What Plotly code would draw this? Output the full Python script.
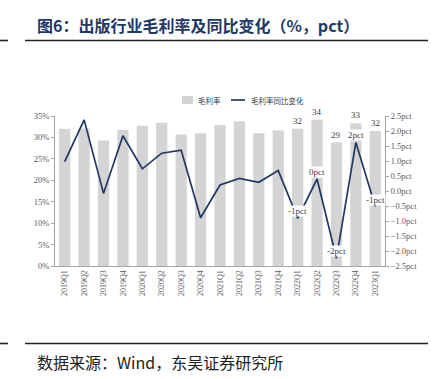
import plotly.graph_objects as go

quarters = ["2019Q1", "2019Q2", "2019Q3", "2019Q4", "2020Q1", "2020Q2", "2020Q3", "2020Q4",
            "2021Q1", "2021Q2", "2021Q3", "2021Q4", "2022Q1", "2022Q2", "2022Q3", "2022Q4", "2023Q1"]
gross_margin = [32.0, 32.1, 29.3, 31.8, 32.7, 33.4, 30.7, 31.0,
                32.9, 33.8, 31.0, 31.6, 32.0, 34.1, 28.8, 33.3, 31.5]
yoy_change = [0.98, 2.37, -0.08, 1.84, 0.74, 1.26, 1.36, -0.89,
              0.20, 0.42, 0.29, 0.68, -0.91, 0.40, -2.24, 1.62, -0.52]
labeled_from = 12  # labels shown from 2022Q1 onwards
series_names = ["毛利率", "毛利率同比变化"]

title_text = "图6：出版行业毛利率及同比变化（%，pct）"
source_text = "数据来源：Wind，东吴证券研究所"

SERIF = "Liberation Serif, Noto Sans CJK SC"
CJK = "Noto Sans CJK SC, Liberation Serif"
NAVY = "#1F3864"
BAR = "#D4D4D4"
TICK = "#595959"

W, H = 434, 379
ml, mr, mt, mb = 55, 49, 116, 113
pw, ph = W - ml - mr, H - mt - mb


def px_x(x):
    return (x - ml) / pw


def px_y(y):
    return (H - mb - y) / ph


fig = go.Figure()
fig.add_trace(go.Bar(x=quarters, y=gross_margin, name=series_names[0], marker_color=BAR,
                     marker_line_width=0, yaxis="y", showlegend=False))
fig.add_trace(go.Scatter(x=quarters, y=yoy_change, name=series_names[1], mode="lines",
                         line=dict(color=NAVY, width=1.7), yaxis="y2", showlegend=False))

annotations = []
for q, v in zip(quarters[labeled_from:], gross_margin[labeled_from:]):
    annotations.append(dict(x=q, y=v, xref="x", yref="y", text=str(round(v)),
                            showarrow=False, yanchor="bottom", yshift=1,
                            font=dict(family=SERIF, size=9, color="#404040")))
for q, v in zip(quarters[labeled_from:], yoy_change[labeled_from:]):
    annotations.append(dict(x=q, y=v, xref="x", yref="y2", text=f"{round(v)}pct",
                            showarrow=False, yanchor="middle", yshift=7,
                            bgcolor="white", borderpad=0,
                            font=dict(family=SERIF, size=9, color="#404040")))

annotations.append(dict(x=px_x(35), y=px_y(25), xref="paper", yref="paper",
                        text="<b>" + title_text + "</b>",
                        showarrow=False, xanchor="left", yanchor="middle",
                        font=dict(family=CJK, size=16, color=NAVY)))
annotations.append(dict(x=px_x(35), y=px_y(362), xref="paper", yref="paper", text=source_text,
                        showarrow=False, xanchor="left", yanchor="middle",
                        font=dict(family=CJK, size=16, color="#222222")))

# custom legend
annotations.append(dict(x=px_x(196), y=px_y(100), xref="paper", yref="paper", text=series_names[0],
                        showarrow=False, xanchor="left", yanchor="middle",
                        font=dict(family=CJK, size=7.5, color="#404040")))
annotations.append(dict(x=px_x(249), y=px_y(100), xref="paper", yref="paper", text=series_names[1],
                        showarrow=False, xanchor="left", yanchor="middle",
                        font=dict(family=CJK, size=7.5, color="#404040")))

shapes = []
for y in (40.5, 343.5):
    shapes.append(dict(type="line", xref="paper", yref="paper", x0=px_x(25), x1=px_x(428),
                       y0=px_y(y), y1=px_y(y), line=dict(color="#222222", width=1.6)))
    shapes.append(dict(type="line", xref="paper", yref="paper", x0=px_x(0), x1=px_x(8),
                       y0=px_y(y), y1=px_y(y), line=dict(color="#222222", width=1.6)))
shapes.append(dict(type="rect", xref="paper", yref="paper", x0=px_x(182), x1=px_x(193),
                   y0=px_y(104), y1=px_y(96), fillcolor=BAR, line=dict(width=0)))
shapes.append(dict(type="line", xref="paper", yref="paper", x0=px_x(231), x1=px_x(245),
                   y0=px_y(100), y1=px_y(100), line=dict(color=NAVY, width=1.7)))

fig.update_layout(
    width=W, height=H,
    margin=dict(l=ml, r=mr, t=mt, b=mb, autoexpand=False),
    paper_bgcolor="white", plot_bgcolor="white",
    bargap=0.42,
    showlegend=False,
    xaxis=dict(type="category", tickangle=-90, showgrid=False, showline=True, automargin=False,
               linecolor="#A6A6A6", linewidth=1, ticks="", tickfont=dict(family=SERIF, size=8, color=TICK),
               range=[-0.5, len(quarters) - 0.5]),
    yaxis=dict(range=[0, 35], dtick=5, ticksuffix="%", showgrid=False, showline=True, automargin=False,
               linecolor="#A6A6A6", linewidth=1, ticks="outside", ticklen=3, tickcolor="#A6A6A6",
               tickfont=dict(family=SERIF, size=8.5, color=TICK), zeroline=False),
    yaxis2=dict(range=[-2.5, 2.5], dtick=0.5, tickformat=".1f", ticksuffix="pct", automargin=False,
                overlaying="y", side="right", showgrid=False, showline=True,
                linecolor="#A6A6A6", linewidth=1, ticks="outside", ticklen=3, tickcolor="#A6A6A6",
                tickfont=dict(family=SERIF, size=8.5, color=TICK), zeroline=False),
    annotations=annotations,
    shapes=shapes,
)

fig.write_html("out.html", config={"displayModeBar": False},
               post_script="document.body.style.margin='0px';document.body.style.overflow='hidden';")
